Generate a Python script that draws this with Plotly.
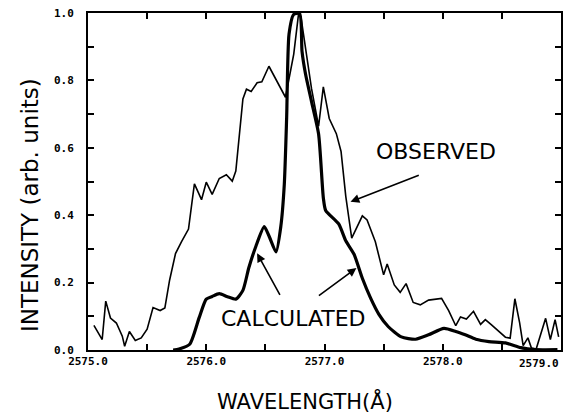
import plotly.graph_objects as go

# Observed spectrum (thin line)
obs_x = [2575.05, 2575.12, 2575.15, 2575.19, 2575.24, 2575.29, 2575.31, 2575.35, 2575.40, 2575.45,
         2575.50, 2575.55, 2575.61, 2575.65, 2575.69, 2575.74, 2575.79, 2575.85, 2575.88, 2575.90,
         2575.96, 2576.00, 2576.05, 2576.11, 2576.17, 2576.22, 2576.25, 2576.28, 2576.31, 2576.34,
         2576.38, 2576.43, 2576.47, 2576.53, 2576.60, 2576.67, 2576.74, 2576.78, 2576.80, 2576.84,
         2576.89, 2576.95, 2576.99, 2577.04, 2577.10, 2577.14, 2577.18, 2577.23, 2577.32, 2577.36,
         2577.43, 2577.50, 2577.53, 2577.59, 2577.64, 2577.69, 2577.75, 2577.81, 2577.88, 2577.99,
         2578.05, 2578.11, 2578.15, 2578.20, 2578.26, 2578.32, 2578.36, 2578.41, 2578.53, 2578.57,
         2578.61, 2578.65, 2578.68, 2578.72, 2578.75, 2578.79, 2578.87, 2578.91, 2578.95, 2578.98]
obs_y = [0.073, 0.031, 0.145, 0.095, 0.080, 0.041, 0.011, 0.055, 0.028, 0.036,
         0.062, 0.126, 0.117, 0.125, 0.207, 0.286, 0.321, 0.359, 0.440, 0.493,
         0.446, 0.498, 0.462, 0.509, 0.520, 0.501, 0.531, 0.648, 0.745, 0.774,
         0.767, 0.793, 0.796, 0.842, 0.794, 0.750, 0.878, 0.996, 0.990, 0.895,
         0.776, 0.664, 0.781, 0.687, 0.642, 0.589, 0.456, 0.332, 0.398, 0.386,
         0.321, 0.223, 0.255, 0.193, 0.171, 0.197, 0.141, 0.134, 0.148, 0.153,
         0.117, 0.072, 0.098, 0.092, 0.115, 0.076, 0.090, 0.075, 0.038, 0.035,
         0.152, 0.081, 0.013, 0.036, 0.006, 0.003, 0.094, 0.031, 0.090, 0.039]

# Calculated spectrum (thick line)
calc_x = [2575.72, 2575.77, 2575.86, 2575.94, 2576.00, 2576.05, 2576.11, 2576.18, 2576.25, 2576.31,
          2576.36, 2576.42, 2576.49, 2576.53, 2576.59, 2576.63, 2576.66, 2576.68, 2576.70, 2576.74,
          2576.79, 2576.81, 2576.84, 2576.89, 2576.95, 2576.99, 2577.01, 2577.12, 2577.18, 2577.25,
          2577.32, 2577.39, 2577.46, 2577.54, 2577.65, 2577.77, 2577.88, 2578.01, 2578.11, 2578.19,
          2578.28, 2578.39, 2578.53, 2578.66, 2578.78, 2578.97]
calc_y = [0.000, 0.003, 0.017, 0.096, 0.151, 0.159, 0.167, 0.158, 0.151, 0.177,
          0.244, 0.308, 0.366, 0.339, 0.291, 0.365, 0.491, 0.690, 0.937, 0.996,
          0.998, 0.886, 0.818, 0.738, 0.641, 0.452, 0.414, 0.374, 0.324, 0.284,
          0.213, 0.154, 0.106, 0.069, 0.039, 0.032, 0.045, 0.064, 0.055, 0.045,
          0.032, 0.025, 0.021, 0.007, 0.001, 0.001]

x_tick_vals = [2575.0, 2575.5, 2576.0, 2576.5, 2577.0, 2577.5, 2578.0, 2578.5, 2579.0]
x_tick_text = ["2575.0", "", "2576.0", "", "2577.0", "", "2578.0", "", ""]
x_last_label = "2579.0"
y_tick_vals = [0.0, 0.1, 0.2, 0.3, 0.4, 0.5, 0.6, 0.7, 0.8, 0.9, 1.0]
y_tick_text = ["0.0", "", "0.2", "", "0.4", "", "0.6", "", "0.8", "", "1.0"]

fig = go.Figure()
fig.add_trace(go.Scatter(x=obs_x, y=obs_y, mode="lines",
                         line=dict(color="black", width=1.6), showlegend=False))
fig.add_trace(go.Scatter(x=calc_x, y=calc_y, mode="lines",
                         line=dict(color="black", width=3.2, shape="spline", smoothing=0.6),
                         showlegend=False))

tickfont = dict(family="DejaVu Sans Mono", size=11, color="black", weight="bold")
labfont = dict(family="DejaVu Sans", size=22, color="black")

fig.update_xaxes(range=[2575.0, 2579.0], tickvals=x_tick_vals, ticktext=x_tick_text,
                 ticks="inside", ticklen=6, tickwidth=1.5, tickcolor="black",
                 showline=True, linecolor="black", linewidth=2, mirror="ticks",
                 showgrid=False, zeroline=False, tickfont=tickfont)
fig.update_yaxes(range=[0.0, 1.0], tickvals=y_tick_vals, ticktext=y_tick_text,
                 ticks="inside", ticklen=6, tickwidth=1.5, tickcolor="black",
                 showline=True, linecolor="black", linewidth=2, mirror="ticks",
                 showgrid=False, zeroline=False, tickfont=tickfont, ticklabelstandoff=10)

ann = []
ann.append(dict(x=2579.0, y=0, xref="x", yref="y", text=x_last_label, showarrow=False,
                xanchor="right", yanchor="top", yshift=-5, font=tickfont))
ann.append(dict(x=0.5, y=-0.1, xref="paper", yref="paper", text="WAVELENGTH(Å)",
                showarrow=False, xanchor="center", yanchor="top", yshift=-2, xshift=-20,
                font=dict(family="DejaVu Sans", size=21, color="black")))
ann.append(dict(x=0, y=0.43, xref="paper", yref="paper", text="INTENSITY (arb. units)",
                showarrow=False, textangle=-90, xanchor="center", yanchor="middle", xshift=-58,
                font=dict(family="DejaVu Sans", size=23, color="black")))
ann.append(dict(x=2577.94, y=0.59, xref="x", yref="y", text="OBSERVED", showarrow=False,
                font=labfont))
ann.append(dict(x=2576.74, y=0.093, xref="x", yref="y", text="CALCULATED", showarrow=False,
                font=labfont))
# arrows
for hx, hy, tx, ty in [(2577.22, 0.44, 2577.81, 0.52),
                       (2576.43, 0.287, 2576.63, 0.159),
                       (2577.27, 0.243, 2576.94, 0.158)]:
    ann.append(dict(x=hx, y=hy, ax=tx, ay=ty, xref="x", yref="y", axref="x", ayref="y",
                    text="", showarrow=True, arrowhead=2, arrowsize=1.1, arrowwidth=1.6,
                    arrowcolor="black"))

fig.update_layout(width=566, height=417, margin=dict(l=88, r=3, t=13, b=67),
                  plot_bgcolor="white", paper_bgcolor="white", annotations=ann)

fig.write_html("out.html")
